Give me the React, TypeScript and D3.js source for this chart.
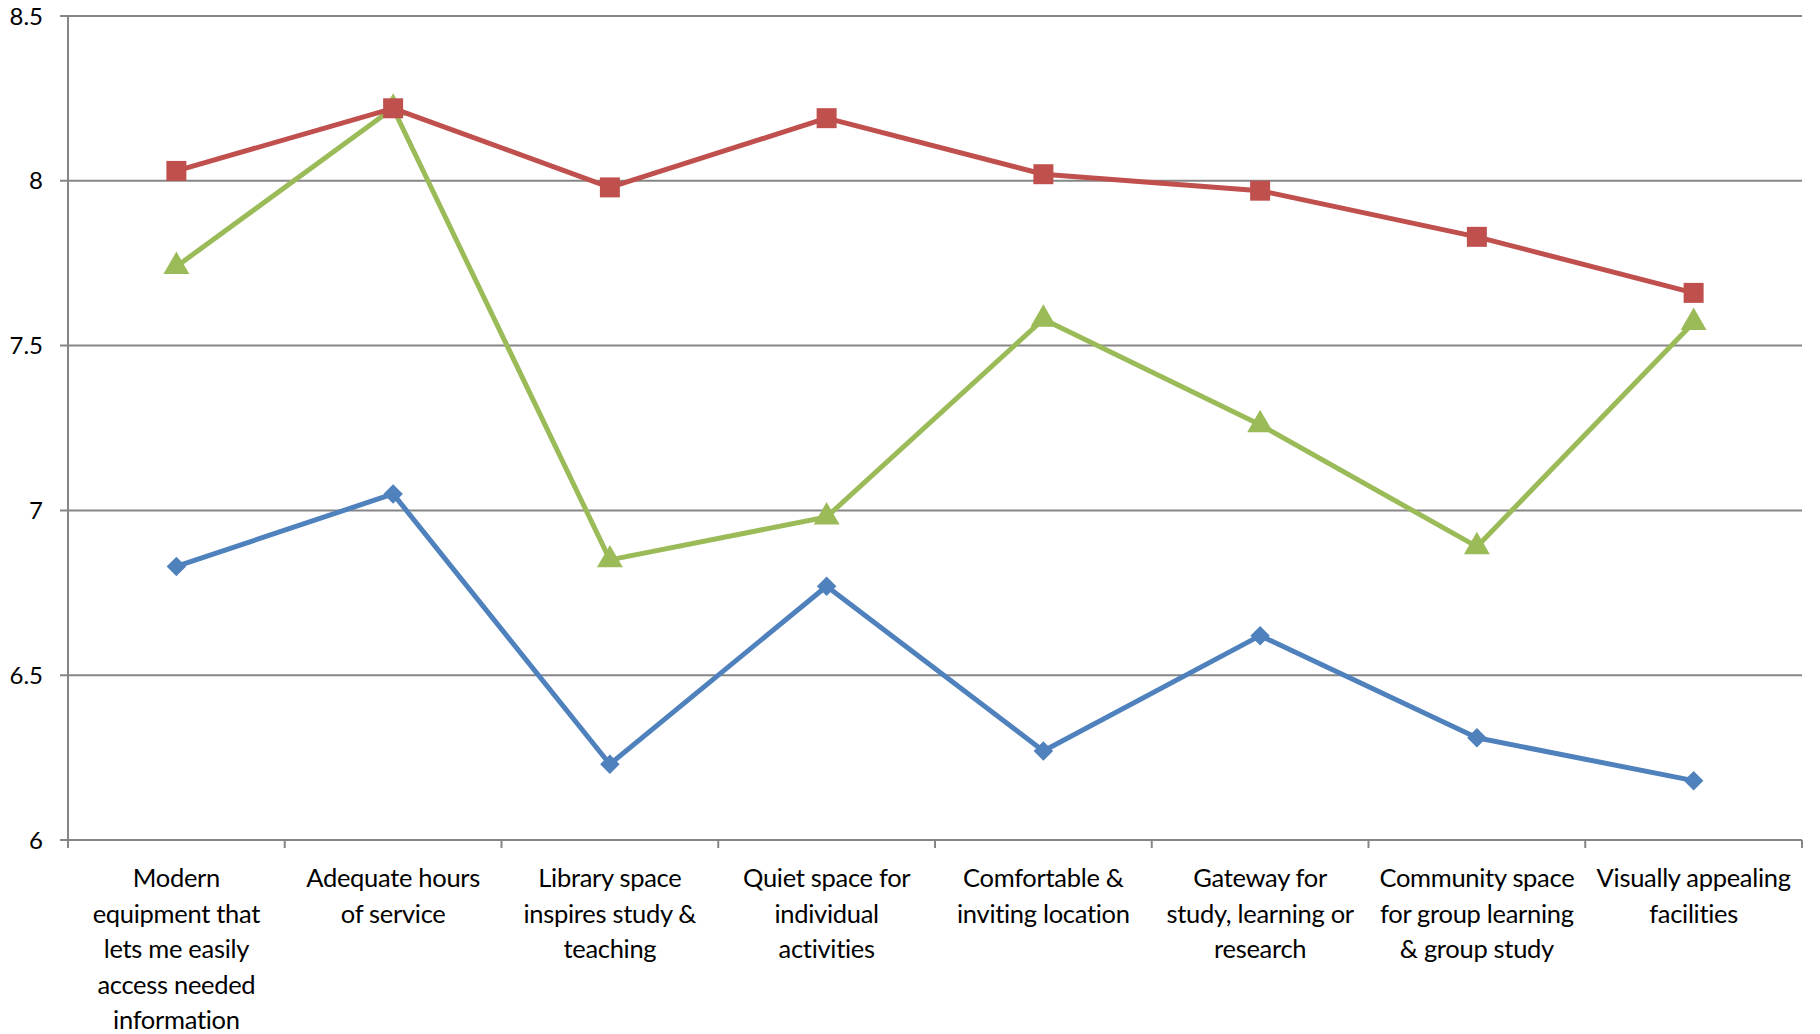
import React from "react";
import * as d3 from "d3";

const categories: string[][] = [
  ["Modern", "equipment that", "lets me easily", "access needed", "information"],
  ["Adequate hours", "of service"],
  ["Library space", "inspires study &", "teaching"],
  ["Quiet space for", "individual", "activities"],
  ["Comfortable &", "inviting location"],
  ["Gateway for", "study, learning or", "research"],
  ["Community space", "for group learning", "& group study"],
  ["Visually appealing", "facilities"],
];

const seriesBlue = [6.83, 7.05, 6.23, 6.77, 6.27, 6.62, 6.31, 6.18];
const seriesRed = [8.03, 8.22, 7.98, 8.19, 8.02, 7.97, 7.83, 7.66];
const seriesGreen = [7.74, 8.22, 6.85, 6.98, 7.58, 7.26, 6.89, 7.57];

const yTicks = [6, 6.5, 7, 7.5, 8, 8.5];

const W = 1820;
const H = 1034;
const left = 68;
const right = 1802;
const top = 16;
const bottom = 840;
const font = "Lato, 'Open Sans', sans-serif";

export default function App() {
  const idx = categories.map((_, i) => String(i));
  const x = d3.scaleBand().domain(idx).range([left, right]).padding(0);
  const y = d3.scaleLinear().domain([6, 8.5]).range([bottom, top]);
  const cx = (i: number) => (x(String(i)) as number) + x.bandwidth() / 2;
  const line = d3
    .line<number>()
    .x((_, i) => cx(i))
    .y((d) => y(d));

  const sq = d3.symbol().type(d3.symbolSquare).size(400)()!;
  const tri = d3.symbol().type(d3.symbolTriangle).size(290)()!;
  const dia = d3.symbol().type(d3.symbolSquare).size(190)()!;

  const series = [
    { vals: seriesBlue, color: "#4F81BD", path: dia, rot: 45 },
    { vals: seriesGreen, color: "#9BBB59", path: tri, rot: 0 },
    { vals: seriesRed, color: "#C0504D", path: sq, rot: 0 },
  ];

  const boundaries = d3.range(categories.length + 1).map((i) =>
    i < categories.length ? (x(String(i)) as number) : right
  );

  return (
    <svg width={W} height={H} style={{ position: "absolute", left: 0, top: 0, background: "#fff" }}>
      {yTicks.map((t) => (
        <g key={t}>
          <line x1={60} x2={right} y1={y(t)} y2={y(t)} stroke="#868686" strokeWidth={2} />
          <text x={43} y={y(t)} dy="0.36em" textAnchor="end" fontFamily={font} fontSize={24} fill="#000">
            {t}
          </text>
        </g>
      ))}
      <line x1={left} x2={left} y1={top} y2={bottom + 8} stroke="#868686" strokeWidth={2} />
      {boundaries.map((b, i) => (
        <line key={i} x1={b} x2={b} y1={bottom} y2={bottom + 8} stroke="#868686" strokeWidth={2} />
      ))}
      {categories.map((lines, i) => (
        <text key={i} x={cx(i)} textAnchor="middle" fontFamily={font} fontSize={25.5} fill="#000" letterSpacing={-0.3}>
          {lines.map((l, j) => (
            <tspan key={j} x={cx(i)} y={887 + j * 35.6}>
              {l}
            </tspan>
          ))}
        </text>
      ))}
      {series.map((s, k) => (
        <g key={k}>
          <path d={line(s.vals)!} fill="none" stroke={s.color} strokeWidth={5} strokeLinejoin="round" />
          {s.vals.map((v, i) => (
            <path key={i} d={s.path} transform={`translate(${cx(i)},${y(v)}) rotate(${s.rot})`} fill={s.color} />
          ))}
        </g>
      ))}
    </svg>
  );
}
